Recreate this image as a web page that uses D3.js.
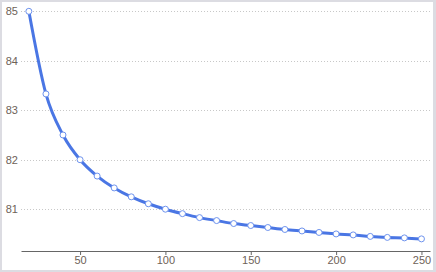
<!DOCTYPE html>
<html><head><meta charset="utf-8">
<script src="https://cdn.jsdelivr.net/npm/d3@7"></script>
<style>
html,body{margin:0;padding:0;background:#dcdce2;}
svg{display:block;}
</style></head>
<body>
<svg id="chart" width="436" height="272"></svg>
<script>
const xValues = [20,30,40,50,60,70,80,90,100,110,120,130,140,150,160,170,180,190,200,210,220,230,240,250];
const yValues = [85,83.33,82.5,82,81.67,81.43,81.25,81.11,81,80.91,80.83,80.77,80.71,80.67,80.63,80.59,80.56,80.53,80.5,80.48,80.45,80.43,80.42,80.4];
const xTicks = [50,100,150,200,250];
const yTicks = [81,82,83,84,85];

const svg = d3.select("#chart");
svg.append("rect").attr("x",2).attr("y",2).attr("width",431).attr("height",268).attr("fill","#fff");

const x = d3.scaleLinear().domain([15.4, 255]).range([21, 430]);
const y = d3.scaleLinear().domain([80.155, 85]).range([251, 11.3]);

// gridlines
svg.append("g").selectAll("line").data(yTicks).join("line")
  .attr("x1",21).attr("x2",430)
  .attr("y1",d=>Math.round(y(d))+0.5).attr("y2",d=>Math.round(y(d))+0.5)
  .attr("stroke","#c8c8c8").attr("stroke-dasharray","1,2");

// y labels
svg.append("g").selectAll("text").data(yTicks).join("text")
  .attr("x",18).attr("y",d=>y(d)+4)
  .attr("text-anchor","end")
  .attr("font-family","Arial, Liberation Sans, sans-serif").attr("font-size",11)
  .attr("fill","#6e6258").text(d=>d);

// x axis
const xAxis = d3.axisBottom(x).tickValues(xTicks).tickSize(4).tickSizeOuter(0).tickPadding(1.5);
const gx = svg.append("g").attr("transform","translate(0,251)").call(xAxis);
gx.select(".domain").attr("stroke","#666");
gx.selectAll(".tick line").attr("stroke","#666");
gx.selectAll(".tick text").attr("font-family","Arial, Liberation Sans, sans-serif").attr("font-size",11).attr("fill","#6e6258");

const data = xValues.map((d,i)=>({x:d,y:yValues[i]}));
const line = d3.line().x(d=>x(d.x)).y(d=>y(d.y)).curve(d3.curveMonotoneX);
svg.append("path").datum(data).attr("d",line)
  .attr("fill","none").attr("stroke","#4a76e4").attr("stroke-width",3);

svg.append("g").selectAll("circle").data(data).join("circle")
  .attr("cx",d=>x(d.x)).attr("cy",d=>y(d.y)).attr("r",3)
  .attr("fill","#fff").attr("stroke","#6e93ee").attr("stroke-width",1);
</script>
</body></html>
